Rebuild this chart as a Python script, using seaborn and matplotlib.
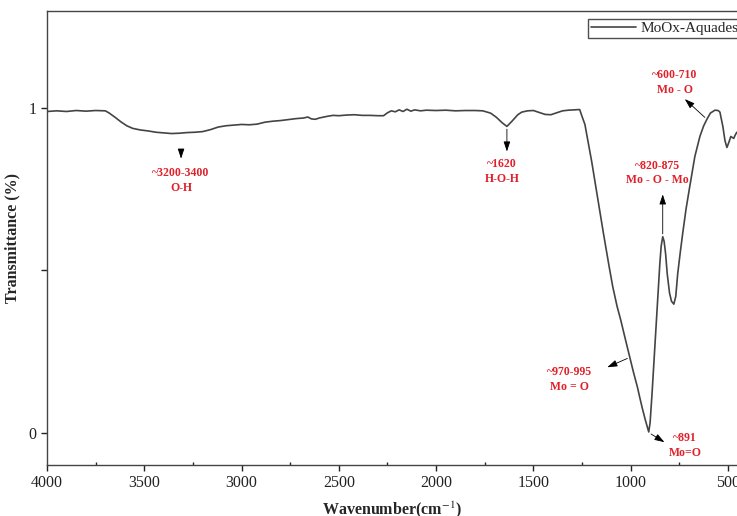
import pandas as pd
import matplotlib
matplotlib.use("Agg")
import matplotlib.pyplot as plt
import seaborn as sns

# FTIR spectrum (wavenumber cm-1, transmittance)
wavenumber = [4000, 3950, 3900, 3850, 3800, 3750, 3700, 3680, 3650, 3620,
              3590, 3560, 3520, 3480, 3440, 3400, 3360, 3320, 3280, 3240,
              3200, 3160, 3120, 3080, 3040, 3000, 2960, 2920, 2880, 2840,
              2800, 2760, 2720, 2680, 2660, 2640, 2620, 2600, 2560, 2530,
              2500, 2460, 2420, 2380, 2340, 2300, 2270, 2250, 2230, 2210,
              2190, 2170, 2150, 2130, 2110, 2080, 2050, 2000, 1950, 1900,
              1850, 1800, 1760, 1720, 1690, 1660, 1636, 1610, 1580, 1560,
              1530, 1500, 1470, 1440, 1410, 1380, 1350, 1320, 1290, 1262,
              1250, 1235, 1200, 1170, 1140, 1110, 1092, 1070, 1050, 1030,
              1004, 985, 965, 953, 940, 925, 907, 900, 890, 880,
              870, 860, 850, 843, 835, 828, 820, 812, 800, 790,
              778, 768, 758, 745, 732, 715, 696, 670, 644, 625,
              608, 590, 567, 550, 541, 526, 515, 505, 495, 485,
              478, 470, 462, 454]
transmittance = [0.990, 0.992, 0.990, 0.993, 0.991, 0.993, 0.992, 0.985, 0.972, 0.958,
                 0.946, 0.938, 0.933, 0.930, 0.926, 0.924, 0.922, 0.923, 0.925, 0.926,
                 0.928, 0.934, 0.942, 0.946, 0.948, 0.950, 0.949, 0.951, 0.957, 0.960,
                 0.962, 0.965, 0.968, 0.970, 0.973, 0.967, 0.966, 0.970, 0.975, 0.978,
                 0.977, 0.979, 0.980, 0.978, 0.978, 0.977, 0.977, 0.986, 0.992, 0.989,
                 0.995, 0.990, 0.997, 0.991, 0.995, 0.992, 0.994, 0.993, 0.994, 0.992,
                 0.993, 0.993, 0.992, 0.985, 0.972, 0.955, 0.944, 0.960, 0.980, 0.988,
                 0.992, 0.993, 0.987, 0.981, 0.980, 0.986, 0.992, 0.994, 0.995, 0.996,
                 0.975, 0.950, 0.835, 0.725, 0.615, 0.510, 0.450, 0.390, 0.345, 0.295,
                 0.232, 0.185, 0.140, 0.108, 0.075, 0.040, 0.002, 0.030, 0.120, 0.220,
                 0.320, 0.420, 0.520, 0.575, 0.604, 0.590, 0.550, 0.490, 0.430, 0.405,
                 0.396, 0.420, 0.490, 0.555, 0.616, 0.690, 0.759, 0.851, 0.913, 0.945,
                 0.966, 0.985, 0.994, 0.993, 0.988, 0.944, 0.900, 0.879, 0.895, 0.913,
                 0.910, 0.907, 0.918, 0.926]

# annotations: label, text position, arrow tail (on curve), arrow tip
ann_labels = ["~3200-3400\nO-H", "~1620\nH-O-H", "~600-710\nMo - O",
              "~820-875\nMo - O - Mo", "~970-995\nMo = O", "~891\nMo=O"]
ann_text_x = [3311, 1660, 773, 860, 1312, 721]
ann_text_y = [0.777, 0.805, 1.08, 0.80, 0.164, -0.04]
ann_tail_x = [3311, 1636, 608, 835, 1004, 907]
ann_tail_y = [0.873, 0.944, 0.966, 0.604, 0.232, 0.0]
ann_tip_x = [3311, 1636, 732, 835, 1133, 814]
ann_tip_y = [0.836, 0.858, 1.034, 0.743, 0.198, -0.034]

df = pd.DataFrame({"Wavenumber": wavenumber, "Transmittance": transmittance})

sns.set_style("ticks")
plt.rcParams['font.family'] = ['Liberation Serif', 'DejaVu Serif']
plt.rcParams['mathtext.fontset'] = 'stix'

fig = plt.figure(figsize=(7.37, 5.16), dpi=100)
ax = fig.add_axes([0.0638, 0.0988, 0.936, 0.880])

sns.lineplot(data=df, x="Wavenumber", y="Transmittance", ax=ax, sort=False,
             estimator=None, color="#444444", linewidth=1.2, label="MoOx-Aquades")

for lab, tx, ty, ax0, ay0, ax1, ay1 in zip(ann_labels, ann_text_x, ann_text_y,
                                            ann_tail_x, ann_tail_y, ann_tip_x, ann_tip_y):
    ax.text(tx, ty, lab, color="#e0202a", fontsize=8.5, fontweight="bold",
            ha="center", va="center", linespacing=1.3)
    ax.annotate("", xy=(ax1, ay1), xytext=(ax0, ay0),
                arrowprops=dict(arrowstyle="-|>,head_length=0.6,head_width=0.2",
                                color="black", lw=0.6))

ax.set_xlim(4000, 454)
ax.set_ylim(-0.10, 1.30)
ax.set_xticks([4000, 3500, 3000, 2500, 2000, 1500, 1000, 500])
ax.set_xticks([3750, 3250, 2750, 2250, 1750, 1250, 750], minor=True)
ax.set_yticks([0, 0.5, 1])
ax.set_yticklabels(["0", "", "1"])
ax.tick_params(axis="both", which="major", direction="out", length=4, width=1,
               labelsize=11.5, colors="#222222")
ax.tick_params(axis="x", which="minor", direction="in", length=2, width=1)

for side in ["left", "bottom", "top"]:
    ax.spines[side].set_color("#444444")
    ax.spines[side].set_linewidth(1.0)
ax.spines["right"].set_visible(False)

ax.set_xlabel("Wavenumber(cm$^{-1}$)", fontsize=11.5, fontweight="bold", labelpad=6)
ax.set_ylabel("Transmittance (%)", fontsize=11.5, fontweight="bold", labelpad=6)

leg = ax.legend(loc="upper right", bbox_to_anchor=(1.012, 0.99), fontsize=11,
                frameon=True, fancybox=False, handlelength=3.0, borderpad=0.2,
                handletextpad=0.3, borderaxespad=0.2)
leg.get_frame().set_edgecolor("#222222")
leg.get_frame().set_linewidth(1.0)

fig.savefig("out.png", dpi=100)
